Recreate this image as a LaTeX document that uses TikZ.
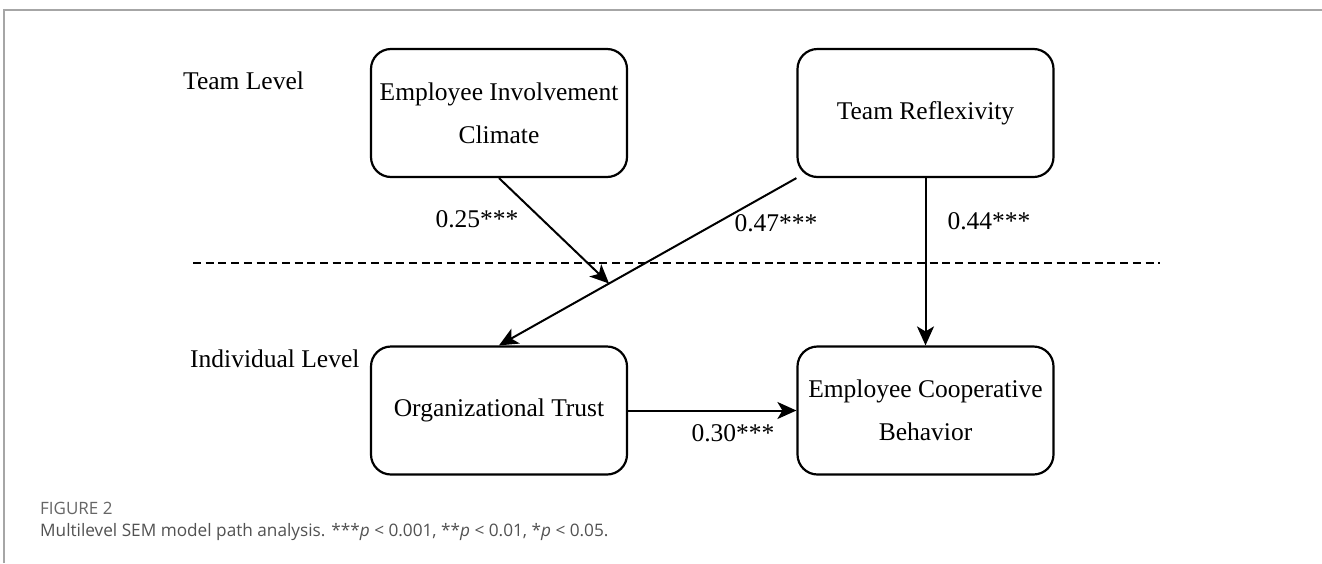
\documentclass[tikz,border=0pt]{standalone}
\usepackage{fontspec}
\setmainfont{Liberation Serif}
\newfontfamily\capfont{Open Sans}
\usetikzlibrary{arrows.meta,calc}
\begin{document}
\begin{tikzpicture}[x=1pt,y=-1pt,
  box/.style={draw,line width=2.2pt,rounded corners=20pt,minimum width=256pt,minimum height=128pt,
    align=center,inner sep=0pt,font=\fontsize{25.5}{43}\selectfont},
  path/.style={line width=2pt,-{Stealth[length=19pt,width=17pt,inset=5pt]}},
  coef/.style={font=\fontsize{25.5}{30}\selectfont,inner sep=0pt},
  level/.style={font=\fontsize{25.5}{30}\selectfont,inner sep=0pt,anchor=west},
  frame/.style={draw=black!35,line width=1.2pt}]
\useasboundingbox (0,0) rectangle (1322,563);
\fill[white] (0,0) rectangle (1322,563);
% page frame
\draw[frame] (4,563) -- (4,10) -- (1322,10);

% level labels and divider
\node[level] (tl) at (183,81) {Team Level};
\node[level] (il) at (190,359) {Individual Level};
\coordinate (d1) at (193,263);
\coordinate (d2) at (1160,263);
\draw[line width=1.6pt,dash pattern=on 8pt off 4.7pt] (d1) -- (d2);

% constructs
\node[box] (eic) at (499,113) {Employee Involvement\\Climate};
\node[box] (tr)  at (925.5,113) {Team Reflexivity};
\node[box] (ot)  at (499,410.5) {Organizational Trust};
\node[box] (ecb) at (925.5,410.5) {Employee Cooperative\\Behavior};

% paths
\draw[path] (tr.south west) -- (ot.north);
\coordinate (mod) at ($(tr.south west)!0.63!(ot.north)$);
\draw[path] (eic.south) -- (mod);
\draw[path] (tr.south) -- (ecb.north);
\draw[path] (ot.east) -- (ecb.west);

% coefficients
\node[coef] (c1) at (477,219) {0.25***};
\node[coef] (c2) at (776,223) {0.47***};
\node[coef] (c3) at (989,221) {0.44***};
\node[coef] (c4) at (733,433) {0.30***};

% caption
\node[anchor=west,inner sep=0pt,text=black!60,font=\capfont\fontsize{17}{20}\selectfont] (fig) at (40,508) {FIGURE 2};
\node[anchor=west,inner sep=0pt,text=black!68,font=\capfont\fontsize{17.2}{20}\selectfont] (cap) at (40,532)
  {Multilevel SEM model path analysis. ***\textit{p} < 0.001, **\textit{p} < 0.01, *\textit{p} < 0.05.};
\end{tikzpicture}
\end{document}
